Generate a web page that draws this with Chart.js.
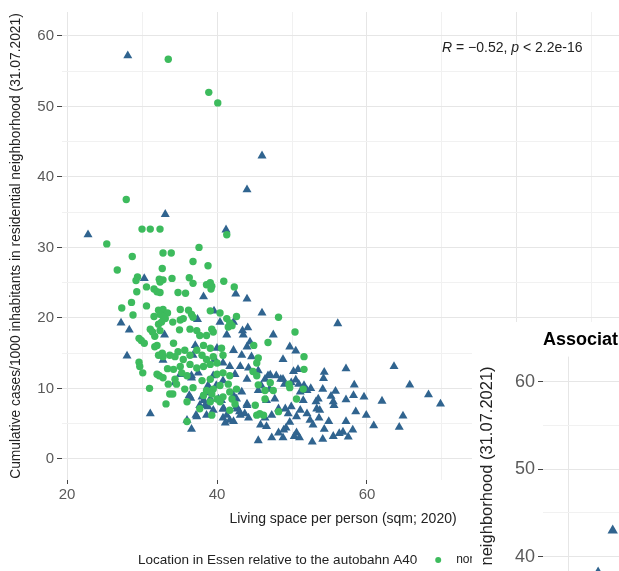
<!DOCTYPE html>
<html>
<head>
<meta charset="utf-8">
<script src="https://cdn.jsdelivr.net/npm/chart.js@4.4.1/dist/chart.umd.min.js"></script>
<style>
  html, body { margin: 0; padding: 0; background: #fff; }
  #wrap { position: relative; width: 619px; height: 571px; overflow: hidden; }
  #main { position: absolute; left: 0; top: 0; }
  #inset { position: absolute; left: 472px; top: 322px; background: #fff; }
</style>
</head>
<body>
<div id="wrap">
  <canvas id="main" width="640" height="571"></canvas>
  <canvas id="inset" width="300" height="666"></canvas>
</div>
<script>
// valeurs (surface habitable / cas cumulés)
const northLiving = [
  33.5, 38.9, 40.1, 27.9, 25.3, 30.0, 31.1, 32.4, 41.3, 37.6, 32.8, 33.9, 28.7, 26.7, 36.8, 38.8, 32.7,
  29.4, 29.2, 32.3, 32.8, 34.0, 36.3, 36.8, 32.4, 38.6, 39.1, 39.3, 39.2, 40.9, 42.3, 30.6, 29.3, 31.6, 32.0,
  32.4, 34.8, 35.8, 28.6, 30.6, 27.3, 32.2, 32.8, 33.4, 32.4, 35.1, 36.2, 36.6, 36.8, 39.1, 40.4, 28.8, 31.6,
  32.8, 33.1, 32.6, 32.2, 34.1, 35.1, 35.5, 41.3, 41.7, 42.6, 42.0, 41.5, 48.2, 31.1, 31.4, 32.4, 31.7, 35.0,
  36.4, 37.3, 37.7, 38.6, 39.3, 39.5,
  29.6, 29.9, 30.3, 29.6, 29.7, 30.1, 31.0, 32.0, 32.7, 32.8, 32.3, 33.2, 33.7, 33.4,
  32.0, 32.8, 33.5, 31.7, 32.2, 33.7,
  34.2, 34.8, 35.7, 34.4, 35.5, 36.4, 37.3, 38.2, 39.1, 38.0, 38.6, 39.5, 40.6, 40.8, 40.0, 39.1, 38.2, 37.3,
  36.4, 35.1, 34.2, 35.3, 36.0, 34.4, 34.6, 35.7, 36.8, 38.0, 39.1, 40.0, 40.8, 41.7, 41.5, 40.4, 39.5, 38.6,
  38.2, 39.3, 40.0, 40.8, 41.7, 42.6, 42.0, 40.4, 39.1, 36.0, 34.1, 36.0, 37.7, 39.3, 41.7, 42.4,
  50.4, 46.8, 44.9, 51.6, 51.6, 45.5, 45.3, 44.8, 45.3, 45.5, 47.1, 46.4, 47.5, 49.6, 49.7, 46.4, 45.1, 48.2,
  45.7, 45.3, 46.2, 50.6, 51.5
]
const northCases = [
  56.7, 52.0, 50.5, 36.8, 30.5, 32.6, 32.6, 32.6, 31.8, 30.0, 29.2, 29.2, 28.7, 26.8, 28.0, 27.4, 27.0,
  25.8, 25.3, 25.5, 25.4, 25.6, 25.7, 24.9, 25.1, 24.7, 25.0, 24.5, 24.1, 25.2, 24.4, 24.4, 23.7, 24.1, 23.7,
  23.6, 23.6, 23.5, 22.2, 21.7, 21.4, 21.1, 21.2, 20.7, 20.5, 21.2, 21.1, 20.5, 20.1, 21.0, 20.7, 20.4, 20.2,
  20.2, 19.9, 19.4, 19.1, 19.4, 19.7, 19.9, 19.9, 19.3, 20.2, 18.9, 18.7, 20.1, 18.4, 18.0, 18.2, 17.4, 18.3,
  18.4, 18.2, 17.5, 17.5, 18.4, 18.0,
  17.1, 16.8, 16.4, 13.7, 13.1, 12.2, 10.0, 16.1, 15.0, 14.5, 11.8, 7.8, 9.2, 12.8,
  12.0, 11.5, 10.6, 15.9, 14.7, 14.7,
  16.4, 15.2, 15.4, 14.5, 14.1, 14.7, 15.4, 16.1, 15.7, 14.7, 14.1, 14.5, 15.7, 14.7, 13.6, 13.4, 13.1, 12.9,
  13.4, 13.1, 12.7, 12.2, 11.8, 11.3, 10.6, 9.9, 10.1, 11.1, 11.3, 12.0, 12.2, 11.8, 10.6, 10.4, 9.9, 9.7,
  9.0, 9.2, 8.5, 8.8, 9.5, 9.9, 8.5, 8.1, 8.1, 8.1, 9.2, 5.3, 7.1, 6.2, 6.9, 7.8,
  18.0, 16.5, 16.1, 14.5, 12.7, 14.3, 13.6, 12.4, 11.8, 10.5, 10.8, 9.7, 9.7, 10.6, 10.1, 8.5, 7.6, 6.7,
  6.4, 6.2, 6.2, 8.5, 9.9
]
const southLiving = [
  28.1, 46.0, 44.0, 33.1, 22.8, 41.2, 30.3, 42.5,
  38.2, 44.0, 39.6, 37.4, 40.4, 42.2, 43.4, 44.1, 46.0, 47.5, 27.2, 28.3, 33.0, 41.3, 43.5,
  28.0, 31.1, 32.8,
  44.0, 37.1, 36.8, 40.0, 42.2, 43.3, 39.7, 40.8, 41.7, 43.1, 44.2, 34.4, 36.6, 37.5, 39.5, 40.8, 42.4, 44.0,
  38.0, 39.1, 40.6, 42.2, 43.3, 38.4, 39.5, 40.8, 42.6, 44.0, 37.3, 36.6, 38.6, 40.8, 41.7, 43.1, 44.2,
  44.4, 44.6, 45.5, 46.8, 48.8,
  35.1, 36.6, 36.3, 36.5, 36.0, 37.2, 37.7, 38.2, 38.8, 38.8, 39.9, 39.1, 40.2, 40.9, 41.3, 41.1, 42.2, 42.7,
  43.0, 42.6, 43.7, 44.0,
  56.1, 49.7, 50.5, 48.8, 57.2, 63.6, 50.2, 50.8, 54.3, 54.2, 65.7, 58.3, 68.2, 69.8, 62.0, 59.6, 58.2, 57.2,
  55.8, 55.2, 55.5, 55.6, 53.5, 53.3, 52.5, 51.6, 54.1, 58.5, 59.9, 64.8, 64.3, 60.9, 58.1, 57.5, 56.8, 56.3,
  55.5, 54.1, 52.7, 57.2,
  54.9, 54.3, 53.6, 52.8, 52.4, 52.0, 51.1, 50.6, 49.9, 49.5, 49.1, 49.7, 48.9, 50.3, 51.0, 50.6,
  53.7, 53.2, 51.5, 51.1, 52.0, 50.9, 50.5, 49.9, 49.0, 48.5, 47.9, 47.1, 46.4, 47.0, 45.9, 45.5, 46.6, 47.7,
  48.2, 47.3, 46.4, 45.8, 45.5, 47.3, 48.8, 49.2, 46.6, 48.2
]
const southCases = [
  57.2, 43.0, 38.2, 34.7, 31.8, 32.5, 25.6, 23.4,
  23.0, 22.7, 21.0, 19.8, 19.4, 19.4, 18.2, 18.6, 20.7, 17.6, 19.3, 18.3, 17.6, 17.6, 17.6,
  14.6, 6.4, 14.0,
  15.9, 16.1, 14.7, 15.7, 15.4, 14.7, 14.1, 13.6, 13.1, 13.1, 12.9, 10.8, 11.8, 12.2, 11.8, 11.1, 12.0, 11.3,
  8.8, 8.5, 8.3, 9.0, 9.5, 7.6, 6.9, 7.1, 7.4, 7.6, 6.0, 4.2, 6.2, 5.8, 5.5, 6.2, 5.8,
  16.6, 14.5, 12.5, 11.8, 11.3,
  12.0, 11.5, 9.0, 8.6, 5.5, 6.2, 7.6, 8.3, 7.4, 10.4, 10.4, 9.4, 8.5, 7.1, 6.2, 5.1, 5.3, 7.1,
  6.7, 8.5, 6.4, 7.8,
  19.2, 15.9, 15.3, 14.1, 12.8, 13.1, 12.4, 12.7, 12.3, 11.4, 10.5, 10.5, 9.1, 7.8, 8.2, 8.8, 9.0, 8.4,
  9.6, 8.9, 8.1, 7.6, 8.5, 7.1, 10.0, 10.4, 9.9, 6.7, 6.2, 6.1, 4.5, 4.7, 4.1, 3.1, 3.8, 3.6,
  3.2, 2.8, 2.4, 5.3,
  5.3, 4.2, 5.8, 4.8, 5.5, 6.4, 6.9, 6.0, 7.4, 6.4, 7.1, 5.2, 4.1, 3.2, 3.0, 3.7,
  6.9, 8.1, 8.3, 9.5, 9.7, 10.6, 11.2, 10.8, 10.6, 11.3, 11.8, 11.9, 11.3, 9.9, 10.4, 9.7, 8.3, 8.5,
  7.1, 6.2, 5.8, 4.8, 2.6, 3.0, 3.0, 4.4, 4.6, 3.7
]

const groupLabels = ['north', 'south']
const xTicks = [20, 30, 40, 50, 60, 70, 80, 90]
const yTicks = [0, 5, 10, 15, 20, 25, 30, 35, 40, 45, 50, 55, 60]
const xTitle = 'Living space per person (sqm; 2020)'
const yTitle = 'Cumulative cases/1000 inhabitants in residential neighborhood (31.07.2021)'
const legendTitle = 'Location in Essen relative to the autobahn A40'
const corrText = ['R', ' = \u22120.52, ', 'p', ' < 2.2e-16']
const corrAt = [70.0, 58.3]
const insetTitle = 'Association'

const GREEN = '#3dbb5d'
const BLUE = '#30648f'
const FONT = '"Liberation Sans", Arial, sans-serif'
Chart.defaults.font.family = FONT

const toPoints = (xs, ys) => xs.map((x, i) => ({ x: x, y: ys[i] }))
const gridColor = every => ctx => (ctx.tick && ctx.tick.value % every === 0) ? '#e6e6e6' : '#f1f1f1'
const tickColor = every => ctx => (ctx.tick && ctx.tick.value % every === 0) ? '#444' : 'rgba(0,0,0,0)'

const corrPlugin = {
  id: 'corrLabel',
  afterDraw(chart) {
    const { ctx, scales } = chart
    let x = scales.x.getPixelForValue(corrAt[0])
    const y = scales.y.getPixelForValue(corrAt[1])
    ctx.save()
    ctx.fillStyle = '#222'
    ctx.textBaseline = 'middle'
    corrText.forEach((part, i) => {
      ctx.font = (i % 2 === 0 ? 'italic ' : '') + '14px ' + FONT
      ctx.fillText(part, x, y)
      x += ctx.measureText(part).width
    })
    ctx.restore()
  }
}

const legendPlugin = {
  id: 'bottomLegend',
  afterDraw(chart) {
    const ctx = chart.ctx
    const y = 560
    ctx.save()
    ctx.font = '13.5px ' + FONT
    ctx.fillStyle = '#222'
    ctx.textBaseline = 'middle'
    ctx.fillText(legendTitle, 138, y)
    let x = 138 + ctx.measureText(legendTitle).width + 21
    ctx.fillStyle = GREEN
    ctx.beginPath()
    ctx.arc(x, y, 3, 0, Math.PI * 2)
    ctx.fill()
    ctx.fillStyle = '#222'
    ctx.font = '12px ' + FONT
    ctx.fillText(groupLabels[0], x + 18, y)
    x += 18 + ctx.measureText(groupLabels[0]).width + 20
    ctx.fillStyle = BLUE
    ctx.beginPath()
    ctx.moveTo(x, y - 4)
    ctx.lineTo(x + 4, y + 3)
    ctx.lineTo(x - 4, y + 3)
    ctx.fill()
    ctx.fillStyle = '#222'
    ctx.fillText(groupLabels[1], x + 18, y)
    ctx.restore()
  }
}

new Chart(document.getElementById('main').getContext('2d'), {
  type: 'scatter',
  data: {
    datasets: [{
      label: groupLabels[0],
      data: toPoints(northLiving, northCases),
      backgroundColor: GREEN,
      pointStyle: 'circle',
      pointRadius: 3.7,
      borderWidth: 0
    }, {
      label: groupLabels[1],
      data: toPoints(southLiving, southCases),
      backgroundColor: BLUE,
      pointStyle: 'triangle',
      pointRadius: 5.2,
      borderWidth: 0
    }]
  },
  options: {
    responsive: false,
    animation: false,
    layout: { padding: { top: 0, left: 0, right: 16, bottom: 41 } },
    scales: {
      x: {
        type: 'linear',
        min: 19.33,
        max: 94.27,
        afterBuildTicks: s => { s.ticks = xTicks.map(v => ({ value: v })) },
        afterFit: s => { s.height = 50 },
        ticks: {
          callback: v => v % 20 === 0 ? v : '',
          font: { size: 15 },
          color: '#5a5a5a',
          padding: 2,
          maxRotation: 0,
          autoSkip: false
        },
        grid: { color: gridColor(20), tickColor: tickColor(20), tickLength: 4 },
        border: { display: false },
        title: { display: true, text: xTitle, font: { size: 14 }, color: '#222', padding: { top: 0, bottom: 2 } }
      },
      y: {
        min: -3,
        max: 63.4,
        afterBuildTicks: s => { s.ticks = yTicks.map(v => ({ value: v })) },
        afterFit: s => { s.width = 62 },
        ticks: {
          callback: v => v % 10 === 0 ? v : '',
          font: { size: 15 },
          color: '#5a5a5a',
          padding: 3,
          autoSkip: false
        },
        grid: { color: gridColor(10), tickColor: tickColor(10), tickLength: 5 },
        border: { display: false },
        title: { display: true, text: yTitle, font: { size: 13.8 }, color: '#222', padding: { top: 8, bottom: 0 } }
      }
    },
    plugins: {
      legend: { display: false },
      tooltip: { enabled: false }
    }
  },
  plugins: [corrPlugin, legendPlugin]
})

// le deuxieme graphique qui recouvre le coin en bas a droite
new Chart(document.getElementById('inset').getContext('2d'), {
  type: 'scatter',
  data: {
    datasets: [{
      label: groupLabels[1],
      data: toPoints(southLiving, southCases),
      backgroundColor: BLUE,
      pointStyle: 'triangle',
      pointRadius: 6,
      borderWidth: 0
    }]
  },
  options: {
    responsive: false,
    animation: false,
    layout: { padding: 0 },
    scales: {
      x: {
        type: 'linear',
        min: 36.45,
        max: 67,
        afterBuildTicks: s => { s.ticks = [40, 50, 60].map(v => ({ value: v })) },
        afterFit: s => { s.height = 55 },
        ticks: { font: { size: 18 }, color: '#5a5a5a' },
        grid: { color: '#e6e6e6', tickColor: '#444', tickLength: 5 },
        border: { display: false }
      },
      y: {
        min: -3,
        max: 62.86,
        afterBuildTicks: s => { s.ticks = yTicks.map(v => ({ value: v })) },
        afterFit: s => { s.width = 71 },
        ticks: {
          callback: v => v % 10 === 0 ? v : '',
          font: { size: 18 },
          color: '#5a5a5a',
          padding: 3,
          autoSkip: false
        },
        grid: { color: gridColor(10), tickColor: tickColor(10), tickLength: 5 },
        border: { display: false },
        title: { display: true, text: yTitle, font: { size: 16.5 }, color: '#222', padding: { top: 6, bottom: 0 } }
      }
    },
    plugins: {
      legend: { display: false },
      tooltip: { enabled: false },
      title: {
        display: true,
        text: insetTitle,
        align: 'start',
        fullSize: false,
        color: '#000',
        font: { size: 18, weight: 'bold' },
        padding: { top: 7, bottom: 6 }
      }
    }
  }
})
</script>
</body>
</html>
